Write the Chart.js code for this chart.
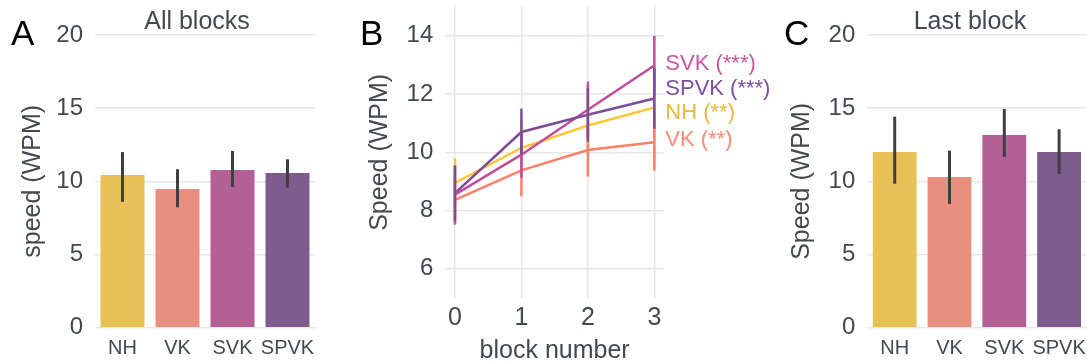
<!DOCTYPE html>
<html>
<head>
<meta charset="utf-8">
<script src="https://cdn.jsdelivr.net/npm/chart.js@4"></script>
<style>
  body { margin: 0; background: #fff; }
  #wrap { position: relative; width: 1087px; height: 364px; overflow: hidden;
          font-family: 'Liberation Sans', Arial, sans-serif; }
  canvas { position: absolute; top: 0; }
  .tag { position: absolute; font-size: 35px; line-height: 35px; color: #000; }
  .ttl { position: absolute; width: 200px; font-size: 25px; line-height: 25px;
         color: #44484f; text-align: center; }
</style>
</head>
<body>
<div id="wrap">
  <canvas id="chartA" width="335" height="364" style="left:0"></canvas>
  <canvas id="chartB" width="440" height="364" style="left:340px"></canvas>
  <canvas id="chartC" width="307" height="364" style="left:780px"></canvas>
  <div class="tag" style="left:11px; top:15px">A</div>
  <div class="tag" style="left:360px; top:15px">B</div>
  <div class="tag" style="left:784px; top:15px">C</div>
  <div class="ttl" style="left:97px; top:8px">All blocks</div>
  <div class="ttl" style="left:870px; top:8px">Last block</div>
</div>
<script>
const groups = ['NH', 'VK', 'SVK', 'SPVK'];
const stars = ['(**)', '(**)', '(***)', '(***)'];
const barColors = ['#E7C157', '#E98F80', '#B26096', '#7D5C8D'];
const lineColors = ['#FCC73A', '#FE7F6B', '#C04E9C', '#7A4C99'];
const labelColors = ['#E6B83E', '#F98A77', '#C857A0', '#7B4F9E'];
const textColor = '#44484f';
const gridColor = '#ebe6e3';

// A: all blocks
const allMean = [10.44, 9.48, 10.78, 10.57];
const allLow = [8.6, 8.23, 9.62, 9.57];
const allHigh = [12.0, 10.83, 12.08, 11.51];

// C: last block
const lastMean = [12.01, 10.3, 13.17, 12.01];
const lastLow = [9.84, 8.46, 11.67, 10.5];
const lastHigh = [14.42, 12.1, 14.95, 13.56];

// B: speed per block
const blocks = [0, 1, 2, 3];
const nhSpeed = [8.95, 10.15, 10.92, 11.54];
const vkSpeed = [8.37, 9.38, 10.08, 10.35];
const svkSpeed = [8.55, 9.92, 11.46, 12.98];
const spvkSpeed = [8.6, 10.7, 11.29, 11.85];
const nhErr = [0.85, 0.95, 1.0, 1.05];
const vkErr = [0.87, 0.89, 0.91, 0.98];
const svkErr = [1.0, 0.8, 0.97, 1.02];
const spvkErr = [0.95, 0.8, 0.92, 1.04];
const speedTicks = [6, 8, 10, 12, 14];

const series = [nhSpeed, vkSpeed, svkSpeed, spvkSpeed];
const errors = [nhErr, vkErr, svkErr, spvkErr];

Chart.defaults.font.family = "'Liberation Sans', Arial, sans-serif";

function errorBars(low, high) {
    return {
        id: 'errorBars',
        afterDatasetsDraw(chart) {
            const ctx = chart.ctx;
            const y = chart.scales.y;
            ctx.save();
            ctx.strokeStyle = '#3f3f3f';
            ctx.lineWidth = 3;
            chart.getDatasetMeta(0).data.forEach((bar, i) => {
                ctx.beginPath();
                ctx.moveTo(bar.x, y.getPixelForValue(low[i]));
                ctx.lineTo(bar.x, y.getPixelForValue(high[i]));
                ctx.stroke();
            });
            ctx.restore();
        }
    };
}

function barPanel(id, means, low, high, axisTitle, yWidth, titlePad, rightPad) {
    new Chart(document.getElementById(id), {
        type: 'bar',
        data: {
            labels: groups,
            datasets: [{
                data: means,
                backgroundColor: barColors,
                barPercentage: 0.8,
                categoryPercentage: 1
            }]
        },
        options: {
            responsive: false,
            animation: false,
            devicePixelRatio: 1,
            layout: { padding: { top: 35, right: rightPad, left: 0, bottom: 0 } },
            plugins: { legend: { display: false }, tooltip: { enabled: false } },
            scales: {
                x: {
                    grid: { display: false },
                    border: { display: false },
                    ticks: { font: { size: 20 }, color: textColor, padding: 1,
                             maxRotation: 0, minRotation: 0, autoSkip: false },
                    afterFit: s => { s.height = 36.3; s.paddingLeft = 0; s.paddingRight = 0; }
                },
                y: {
                    min: 0,
                    max: 20,
                    border: { display: false },
                    grid: { color: gridColor, lineWidth: 1.5, drawTicks: false },
                    ticks: { stepSize: 5, font: { size: 24 }, color: textColor, padding: 12 },
                    title: { display: true, text: axisTitle, font: { size: 25 }, color: textColor,
                             padding: { top: titlePad } },
                    afterFit: s => { s.width = yWidth; s.paddingTop = 0; s.paddingBottom = 0; }
                }
            }
        },
        plugins: [errorBars(low, high)]
    });
}

barPanel('chartA', allMean, allLow, allHigh, 'speed (WPM)', 95, 18, 20);
barPanel('chartC', lastMean, lastLow, lastHigh, 'Speed (WPM)', 87.3, 7, 0.5);

const lineErrors = {
    id: 'lineErrors',
    afterDatasetsDraw(chart) {
        const ctx = chart.ctx;
        const x = chart.scales.x;
        const y = chart.scales.y;
        ctx.save();
        ctx.lineWidth = 2.5;
        series.forEach((s, i) => {
            ctx.strokeStyle = lineColors[i];
            blocks.forEach((b, j) => {
                ctx.beginPath();
                ctx.moveTo(x.getPixelForValue(b), y.getPixelForValue(s[j] - errors[i][j]));
                ctx.lineTo(x.getPixelForValue(b), y.getPixelForValue(s[j] + errors[i][j]));
                ctx.stroke();
            });
        });
        ctx.restore();
    }
};

const endLabels = {
    id: 'endLabels',
    afterDraw(chart) {
        const ctx = chart.ctx;
        const y = chart.scales.y;
        const area = chart.chartArea;
        const items = series.map((s, i) => ({ i: i, y: y.getPixelForValue(s[s.length - 1]) }));
        items.sort((a, b) => a.y - b.y);
        // push labels apart so they don't overlap
        for (let k = 0; k < 50; k++) {
            for (let j = 1; j < items.length; j++) {
                const gap = items[j].y - items[j - 1].y;
                if (gap < 24) {
                    const d = (24 - gap) / 2;
                    items[j - 1].y -= d;
                    items[j].y += d;
                }
            }
        }
        ctx.save();
        ctx.font = "22px 'Liberation Sans', Arial, sans-serif";
        ctx.textBaseline = 'middle';
        ctx.textAlign = 'left';
        items.forEach(it => {
            ctx.fillStyle = labelColors[it.i];
            ctx.fillText(groups[it.i] + ' ' + stars[it.i], area.right + 1, it.y - 2);
        });
        ctx.restore();
    }
};

new Chart(document.getElementById('chartB'), {
    type: 'line',
    data: {
        datasets: series.map((s, i) => ({
            label: groups[i],
            data: blocks.map((b, j) => ({ x: b, y: s[j] })),
            borderColor: lineColors[i],
            borderWidth: 2.5,
            pointRadius: 0,
            tension: 0,
            order: 3 - i
        }))
    },
    options: {
        responsive: false,
        animation: false,
        devicePixelRatio: 1,
        layout: { padding: { top: 6.7, right: 115.7, left: 0, bottom: 0 } },
        plugins: { legend: { display: false }, tooltip: { enabled: false } },
        scales: {
            x: {
                type: 'linear',
                min: -0.15,
                max: 3.15,
                afterBuildTicks: s => { s.ticks = blocks.map(v => ({ value: v })); },
                border: { display: false },
                grid: { color: gridColor, lineWidth: 1.5, drawTicks: false },
                ticks: { font: { size: 25 }, color: textColor, padding: 5, maxRotation: 0 },
                title: { display: true, text: 'block number', font: { size: 25 }, color: textColor,
                         padding: { bottom: -2 } },
                afterFit: s => { s.height = 66; s.paddingLeft = 0; s.paddingRight = 0; }
            },
            y: {
                min: 5,
                max: 15,
                afterBuildTicks: s => { s.ticks = speedTicks.map(v => ({ value: v })); },
                border: { display: false },
                grid: { color: gridColor, lineWidth: 1.5, drawTicks: false },
                ticks: { font: { size: 24 }, color: textColor, padding: 11.7 },
                title: { display: true, text: 'Speed (WPM)', font: { size: 25 }, color: textColor,
                         padding: { top: 25 } },
                afterFit: s => { s.width = 105; s.paddingTop = 0; s.paddingBottom = 0; }
            }
        }
    },
    plugins: [lineErrors, endLabels]
});
</script>
</body>
</html>
